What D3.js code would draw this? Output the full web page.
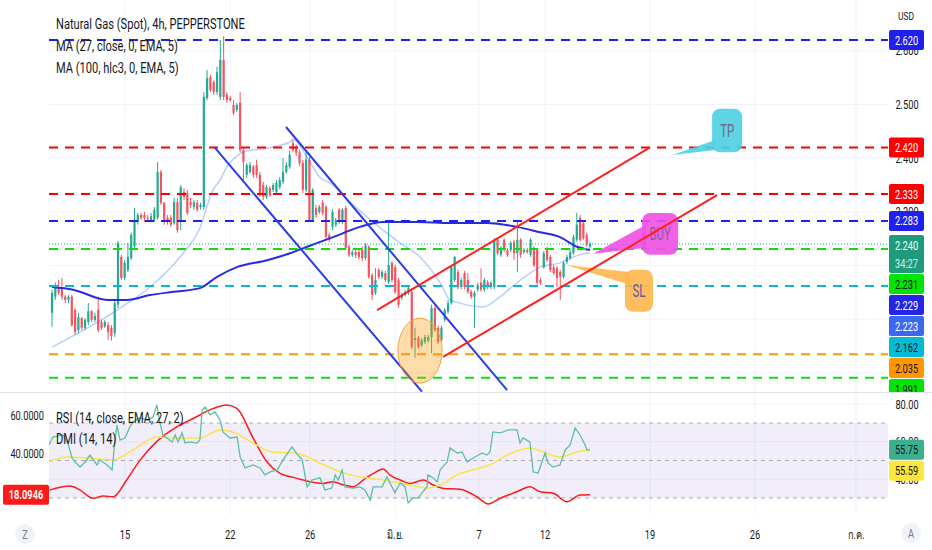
<!DOCTYPE html>
<html>
<head>
<meta charset="utf-8">
<script src="https://cdn.jsdelivr.net/npm/d3@7"></script>
<style>
  body { margin: 0; background: #fff; }
  svg text { font-family: Roboto, "Noto Sans", sans-serif; }
</style>
</head>
<body>
<div id="viz"></div>
<script>
// 4h candles, [open, high, low, close]
const candles = [
  [2.112,2.155,2.086,2.149],[2.142,2.168,2.136,2.160],[2.160,2.173,2.145,2.149],[2.158,2.177,2.136,2.142],
  [2.142,2.145,2.130,2.136],[2.136,2.145,2.130,2.142],[2.142,2.145,2.086,2.089],[2.117,2.121,2.071,2.076],
  [2.080,2.112,2.074,2.104],[2.102,2.104,2.080,2.084],[2.084,2.102,2.080,2.099],[2.095,2.130,2.089,2.115],
  [2.115,2.117,2.095,2.099],[2.099,2.112,2.095,2.106],[2.117,2.142,2.076,2.080],[2.095,2.099,2.080,2.084],
  [2.086,2.099,2.084,2.095],[2.089,2.095,2.061,2.076],[2.084,2.089,2.060,2.069],[2.074,2.136,2.067,2.130],
  [2.127,2.246,2.121,2.242],[2.216,2.220,2.173,2.177],[2.177,2.210,2.173,2.205],[2.192,2.242,2.188,2.216],
  [2.214,2.261,2.210,2.257],[2.236,2.307,2.233,2.285],[2.281,2.298,2.276,2.294],[2.294,2.298,2.285,2.289],
  [2.294,2.300,2.281,2.289],[2.289,2.294,2.283,2.287],[2.285,2.298,2.281,2.292],[2.285,2.309,2.281,2.304],
  [2.289,2.393,2.285,2.374],[2.374,2.378,2.313,2.317],[2.317,2.318,2.276,2.285],[2.289,2.294,2.276,2.281],
  [2.289,2.294,2.272,2.276],[2.279,2.326,2.276,2.318],[2.318,2.326,2.261,2.266],[2.285,2.350,2.266,2.346],
  [2.337,2.344,2.322,2.328],[2.335,2.341,2.294,2.298],[2.318,2.326,2.307,2.313],[2.309,2.322,2.304,2.318],
  [2.317,2.322,2.300,2.304],[2.309,2.317,2.304,2.313],[2.309,2.523,2.304,2.514],[2.512,2.564,2.508,2.549],
  [2.551,2.555,2.523,2.527],[2.542,2.545,2.518,2.523],[2.523,2.570,2.518,2.560],[2.514,2.620,2.508,2.583],
  [2.583,2.627,2.508,2.514],[2.518,2.523,2.503,2.508],[2.512,2.516,2.505,2.508],[2.499,2.508,2.480,2.484],
  [2.490,2.503,2.486,2.499],[2.503,2.523,2.411,2.415],[2.415,2.419,2.354,2.393],[2.369,2.391,2.363,2.387],
  [2.374,2.393,2.371,2.387],[2.384,2.387,2.363,2.369],[2.387,2.397,2.363,2.369],[2.369,2.374,2.328,2.331],
  [2.350,2.356,2.322,2.328],[2.328,2.350,2.324,2.346],[2.344,2.348,2.328,2.331],[2.341,2.354,2.337,2.350],
  [2.337,2.359,2.333,2.354],[2.346,2.365,2.342,2.359],[2.356,2.400,2.352,2.374],[2.374,2.393,2.371,2.387],
  [2.384,2.415,2.380,2.406],[2.428,2.434,2.411,2.415],[2.421,2.425,2.404,2.410],[2.411,2.415,2.385,2.391],
  [2.391,2.397,2.335,2.341],[2.341,2.415,2.337,2.397],[2.397,2.402,2.281,2.285],[2.285,2.344,2.281,2.341],
  [2.307,2.313,2.289,2.294],[2.300,2.313,2.296,2.309],[2.317,2.322,2.294,2.298],[2.309,2.313,2.249,2.253],
  [2.257,2.261,2.244,2.248],[2.272,2.305,2.266,2.300],[2.276,2.289,2.272,2.285],[2.304,2.307,2.277,2.281],
  [2.281,2.307,2.277,2.304],[2.307,2.311,2.229,2.233],[2.235,2.238,2.216,2.220],[2.220,2.229,2.216,2.225],
  [2.225,2.229,2.214,2.220],[2.225,2.231,2.212,2.216],[2.229,2.235,2.208,2.214],[2.214,2.242,2.210,2.238],
  [2.235,2.238,2.175,2.179],[2.182,2.186,2.136,2.145],[2.149,2.195,2.145,2.173],[2.192,2.195,2.175,2.179],
  [2.179,2.192,2.175,2.188],[2.186,2.190,2.169,2.173],[2.169,2.279,2.166,2.201],[2.205,2.208,2.169,2.173],
  [2.197,2.201,2.147,2.151],[2.173,2.177,2.121,2.127],[2.140,2.149,2.136,2.145],[2.145,2.155,2.142,2.151],
  [2.149,2.162,2.145,2.158],[2.151,2.158,2.045,2.048],[2.061,2.084,2.028,2.065],[2.065,2.069,2.045,2.048],
  [2.052,2.065,2.048,2.061],[2.058,2.071,2.054,2.067],[2.060,2.071,2.056,2.067],[2.067,2.127,2.037,2.121],
  [2.121,2.125,2.076,2.080],[2.084,2.088,2.054,2.058],[2.061,2.088,2.058,2.084],[2.099,2.121,2.095,2.117],
  [2.114,2.136,2.110,2.130],[2.130,2.201,2.127,2.197],[2.173,2.218,2.169,2.216],[2.188,2.192,2.156,2.160],
  [2.160,2.177,2.156,2.173],[2.186,2.190,2.156,2.160],[2.173,2.186,2.147,2.151],[2.151,2.155,2.138,2.142],
  [2.142,2.153,2.084,2.149],[2.155,2.168,2.151,2.164],[2.168,2.195,2.151,2.155],[2.155,2.177,2.151,2.173],
  [2.169,2.173,2.156,2.160],[2.160,2.171,2.156,2.168],[2.160,2.251,2.156,2.248],[2.248,2.251,2.220,2.223],
  [2.220,2.236,2.216,2.233],[2.248,2.251,2.225,2.229],[2.229,2.233,2.216,2.220],[2.229,2.246,2.225,2.242],
  [2.244,2.248,2.210,2.223],[2.223,2.285,2.188,2.248],[2.248,2.251,2.214,2.220],[2.225,2.233,2.222,2.229],
  [2.229,2.233,2.222,2.225],[2.220,2.251,2.216,2.248],[2.233,2.236,2.197,2.201],[2.229,2.233,2.164,2.168],
  [2.173,2.177,2.164,2.168],[2.197,2.227,2.194,2.223],[2.229,2.235,2.207,2.210],[2.216,2.220,2.188,2.192],
  [2.197,2.201,2.182,2.186],[2.195,2.199,2.160,2.177],[2.188,2.192,2.136,2.179],[2.179,2.208,2.175,2.205],
  [2.207,2.220,2.203,2.216],[2.214,2.229,2.210,2.225],[2.223,2.257,2.220,2.253],[2.248,2.298,2.244,2.276],
  [2.289,2.294,2.244,2.248],[2.279,2.283,2.248,2.251],[2.257,2.261,2.235,2.238],[2.235,2.244,2.231,2.240]
];

// moving averages, [bar, price]
const ma27 = [[0,2.048],[19.7,2.117],[29.7,2.160],[38.8,2.216],[44.8,2.270],[48.8,2.341],[50.9,2.359],
  [53,2.384],[54.8,2.397],[57.9,2.411],[65.2,2.419],[72.1,2.430],[73,2.435],[77.3,2.402],[81.2,2.364],
  [84.2,2.354],[90.3,2.318],[100.3,2.266],[105.5,2.242],[111.5,2.216],[117.6,2.168],[120.6,2.136],
  [123.6,2.130],[130.6,2.123],[135.8,2.142],[140.9,2.168],[147.9,2.197],[153.9,2.205],[157.9,2.216],
  [162.1,2.223],[163,2.223]];
const ma100 = [[0,2.160],[6.4,2.155],[16.7,2.136],[22.7,2.136],[29.7,2.145],[36.7,2.151],[44.8,2.158],
  [50,2.179],[56,2.197],[65.2,2.210],[72.1,2.223],[77.3,2.235],[85.2,2.253],[93.3,2.272],[100.3,2.281],
  [110.6,2.281],[120.6,2.279],[131.8,2.279],[140.9,2.272],[147.9,2.262],[153.9,2.253],[159.1,2.235],
  [163,2.229]];

// lower pane, [bar, value]
const rsi = [[-0.9,58.3],[0.3,62.5],[3.3,63.6],[4.8,59.3],[6.1,51.3],[7,49.2],[8.5,46.5],[10,49.2],
  [11.5,52.9],[13.6,47.6],[14.5,50.3],[16.7,47.6],[18.2,44.9],[19.1,60.9],[19.7,68.9],[20.6,60.9],
  [22.1,62],[23.6,67.9],[24.5,70.5],[26.7,72.7],[28.8,71.6],[30.6,73.2],[31.8,79.6],[32.7,70],
  [33.6,63.6],[34.8,62],[36.4,59.9],[37.3,63.6],[38.2,59.9],[39.4,64.7],[40.3,59.3],[41.8,59.9],
  [43.9,59.3],[44.8,60.9],[45.5,76.9],[46.4,78.5],[47.9,74.3],[49.4,75.9],[50.9,71.6],[51.8,65.2],
  [53.9,62],[56.1,62.5],[57,51.9],[58.5,46],[60.9,47.6],[63,46],[64.5,42.3],[66.1,43.9],[68.2,44.9],
  [70,50.3],[72.7,57.2],[74.5,52.9],[75.8,50.3],[77.3,35.9],[78.8,39.6],[81.2,40.7],[82.7,34.3],
  [84.8,35.3],[85.8,42.3],[86.7,39.6],[87.9,44.9],[88.8,35.9],[91.2,35.3],[93.3,35.9],[94.8,34.3],
  [96.4,28.9],[97.3,35.9],[100,35.9],[101.5,41.2],[103.9,32.7],[105.5,38],[107,35.9],[107.9,27.3],
  [109.4,30],[110.9,30],[112.1,32.7],[113.6,35.9],[113.9,42.3],[115.5,40.7],[116.7,38.5],[117.6,44.9],
  [119.7,49.2],[120.6,56.7],[122.7,54],[124.2,54.5],[125.8,49.2],[127.6,51.3],[130.3,54],[131.8,52.9],
  [132.7,54.5],[133.6,65.2],[135.8,64.7],[136.7,65.2],[138.2,66.3],[140.9,66.3],[141.8,59.3],[142.7,62],
  [144.8,59.9],[145.8,43.9],[147.3,43.3],[149.4,54],[150.3,48.7],[151.8,46.5],[153.9,47.6],[155.5,55.6],
  [157,58.3],[158.5,67.3],[160,63.6],[161.5,58.3],[162.1,55.6],[163,55.75]];
const rsiMa = [[-0.9,49.2],[4.5,51.9],[10.6,51.3],[18.5,50.3],[24.5,55.6],[31.8,62.5],[36.7,62],
  [44.8,62],[50.9,66.3],[54.8,65.2],[60.9,59.3],[66.9,54.5],[73,54],[76.1,52.9],[81.2,48.5],[90.3,42.3],
  [100.3,39.6],[108.5,36.9],[113.6,35.3],[117.6,36.9],[122.7,42.3],[129.7,46],[132.7,47.6],[137.9,52.9],
  [144.8,56.7],[148.8,54.5],[153.9,51.9],[159.1,54.5],[163,55.59]];
const adx = [[-0.8,20.5],[5.5,22.6],[8.5,20.5],[12.5,16.2],[15.5,17.4],[18.6,17.0],[22.6,25.8],
  [26.7,36.3],[31.7,46.0],[37.8,53.8],[42.8,58.2],[48.9,63.5],[52.9,65.3],[56,63.5],[61,47.7],
  [65.1,35.4],[69.1,29.3],[73.1,27.2],[75.2,26.2],[78.2,24.9],[82.2,24.0],[85.2,24.9],[88.3,23.2],
  [91.3,22.3],[94.3,25.8],[97.4,29.3],[100.4,31.6],[102.4,28.4],[105.5,25.8],[108.5,24.0],[112.5,25.8],
  [115.5,23.2],[118.6,21.4],[123.6,20.9],[128.7,17.0],[132.2,13.2],[135.8,16.2],[140.8,19.6],
  [144.8,22.3],[147.9,19.6],[151.9,18.8],[156,14.4],[160,17.9],[163,18.0946]];

// horizontal levels drawn on the chart
const levelPrices = [2.620, 2.420, 2.333, 2.283, 2.231, 2.162, 2.035, 1.991];

// trend lines, [[bar, price], [bar, price]]
const fallLines = [[[49.4,2.419],[112.1,1.965]], [[70.9,2.458],[137.9,1.968]]];
const riseLines = [[[98.5,2.117],[181.2,2.420]], [[118.5,2.030],[201.5,2.331]]];
const ellipseBox = [[104.8,2.102],[118.2,1.981]];

const calloutTexts = ["TP", "BUY", "SL"];
const calloutTips = [[187.9,2.406], [163.9,2.222], [155.8,2.201]];
const calloutBoxes = [[[200,2.492],[209.1,2.411]], [[178.8,2.298],[189.7,2.220]], [[173.6,2.192],[182.1,2.114]]];
const calloutBases = [[[201,2.434],[201,2.415]], [[180,2.276],[180,2.233]], [[175,2.188],[175,2.164]]];

const dayLabels = ["15", "22", "26", "มิ.ย.", "7", "12", "19", "26", "ก.ค."];
const dayBars = [22.1, 54.0, 78.2, 104, 129.4, 149.4, 181.2, 213, 243.6];
const priceTicks = [2.0, 2.1, 2.2, 2.3, 2.4, 2.5, 2.6];
const rsiTicks = [80, 60, 40];
const dmiTicks = [60, 40];
const rsiBand = [70, 50, 30];

// ---------------------------------------------------------------
const width = 932, height = 550;
const left = 49, right = 888;
const mainBottom = 392, subTop = 393, subBottom = 515;
const SX = 0.74; // text in the snapshot is horizontally squeezed

const up = "#22ab94", down = "#f7525f";
const levelColors = ["#1f1ff0", "#ff0000", "#ff0000", "#1f1ff0", "#00e600", "#00bcd4", "#ff9800", "#00e600"];
const levelText = ["#fff", "#fff", "#fff", "#fff", "#131722", "#131722", "#131722", "#131722"];
const calloutColors = ["#4dd0e1", "#f050e6", "#ffb74d"];
const calloutInk = ["#7b5e8f", "#8a5a9a", "#6456b0"];

const svg = d3.select("#viz").append("svg")
  .attr("width", width).attr("height", height)
  .style("display", "block");

const x = d3.scaleLinear().domain([-0.91, 253.3]).range([left, right]);
const y = d3.scaleLinear().domain([1.9645, 2.6945]).range([mainBottom, 0]);
const yRsi = d3.scaleLinear().domain([20.9, 86]).range([subBottom, subTop]);
const yDmi = d3.scaleLinear().domain([7.4, 71.6]).range([subBottom, subTop]);

const defs = svg.append("defs");
defs.append("clipPath").attr("id", "clipMain").append("rect")
  .attr("x", left).attr("y", 0).attr("width", right - left).attr("height", mainBottom);
defs.append("clipPath").attr("id", "clipSub").append("rect")
  .attr("x", left).attr("y", subTop).attr("width", right - left).attr("height", subBottom - subTop);
defs.append("clipPath").attr("id", "clipAxis").append("rect")
  .attr("x", right).attr("y", 0).attr("width", width - right).attr("height", mainBottom);

function label(g, px, py, str, o) {
  return g.append("text")
    .attr("transform", `translate(${px},${py}) scale(${o.sx || SX},1)`)
    .attr("dy", "0.36em")
    .attr("text-anchor", o.anchor || "start")
    .attr("font-size", o.size || 12.5)
    .attr("font-weight", o.weight || 400)
    .attr("fill", o.fill || "#131722")
    .text(str);
}

// grid
const grid = svg.append("g").attr("stroke", "#f0f3fa").attr("stroke-width", 1);
dayBars.forEach(b => {
  grid.append("line").attr("x1", x(b)).attr("x2", x(b)).attr("y1", 0).attr("y2", subBottom);
});
priceTicks.forEach(p => {
  grid.append("line").attr("x1", left).attr("x2", right).attr("y1", y(p)).attr("y2", y(p));
});
rsiTicks.forEach(v => {
  grid.append("line").attr("x1", left).attr("x2", right).attr("y1", yRsi(v)).attr("y2", yRsi(v));
});

svg.append("line").attr("x1", 0).attr("x2", width).attr("y1", mainBottom + 0.5).attr("y2", mainBottom + 0.5)
  .attr("stroke", "#e0e3eb");

// ---------- main pane ----------
const main = svg.append("g").attr("clip-path", "url(#clipMain)");

const bars = main.selectAll("g.candle").data(candles).enter().append("g");
bars.append("line")
  .attr("x1", (d, i) => x(i)).attr("x2", (d, i) => x(i))
  .attr("y1", d => y(d[1])).attr("y2", d => y(d[2]))
  .attr("stroke", d => d[3] >= d[0] ? up : down).attr("stroke-width", 1);
bars.append("rect")
  .attr("x", (d, i) => x(i) - 1.1).attr("width", 2.2)
  .attr("y", d => y(Math.max(d[0], d[3])))
  .attr("height", d => Math.max(1, Math.abs(y(d[0]) - y(d[3]))))
  .attr("fill", d => d[3] >= d[0] ? up : down);

const line = d3.line().x(d => x(d[0])).y(d => y(d[1])).curve(d3.curveMonotoneX);
main.append("path").attr("d", line(ma27)).attr("fill", "none")
  .attr("stroke", "#2962ff").attr("stroke-opacity", 0.32).attr("stroke-width", 1.5);
main.append("path").attr("d", line(ma100)).attr("fill", "none")
  .attr("stroke", "#2a2ae6").attr("stroke-width", 2);

// last price dotted line
const last = candles[candles.length - 1][3];
main.append("line").attr("x1", left).attr("x2", right).attr("y1", y(last)).attr("y2", y(last))
  .attr("stroke", up).attr("stroke-width", 1).attr("stroke-dasharray", "1,2");

// horizontal levels
levelPrices.forEach((p, i) => {
  main.append("line").attr("x1", left).attr("x2", right).attr("y1", y(p)).attr("y2", y(p))
    .attr("stroke", levelColors[i]).attr("stroke-width", 2).attr("stroke-dasharray", "9,7");
});

// callouts
calloutTexts.forEach((t, i) => {
  const tip = calloutTips[i], base = calloutBases[i], box = calloutBoxes[i];
  const pts = [tip, base[0], base[1]].map(d => [x(d[0]), y(d[1])]);
  main.append("polygon").attr("points", pts.map(d => d.join(",")).join(" "))
    .attr("fill", calloutColors[i]).attr("fill-opacity", 0.9);
  const x0 = x(box[0][0]), x1 = x(box[1][0]), y0 = y(box[0][1]), y1 = y(box[1][1]);
  main.append("rect").attr("x", x0).attr("y", y0).attr("width", x1 - x0).attr("height", y1 - y0)
    .attr("rx", 8).attr("fill", calloutColors[i]).attr("fill-opacity", 0.9);
  label(main, (x0 + x1) / 2, (y0 + y1) / 2, t, { anchor: "middle", size: 17.5, sx: 0.65, fill: calloutInk[i] });
});

// trend lines
fallLines.forEach(l => {
  main.append("line").attr("x1", x(l[0][0])).attr("y1", y(l[0][1])).attr("x2", x(l[1][0])).attr("y2", y(l[1][1]))
    .attr("stroke", "#2a3de8").attr("stroke-width", 2);
});
riseLines.forEach(l => {
  main.append("line").attr("x1", x(l[0][0])).attr("y1", y(l[0][1])).attr("x2", x(l[1][0])).attr("y2", y(l[1][1]))
    .attr("stroke", "#ff1f1f").attr("stroke-width", 2);
});

// ellipse
main.append("ellipse")
  .attr("cx", (x(ellipseBox[0][0]) + x(ellipseBox[1][0])) / 2)
  .attr("cy", (y(ellipseBox[0][1]) + y(ellipseBox[1][1])) / 2)
  .attr("rx", (x(ellipseBox[1][0]) - x(ellipseBox[0][0])) / 2)
  .attr("ry", (y(ellipseBox[1][1]) - y(ellipseBox[0][1])) / 2)
  .attr("fill", "#ff9800").attr("fill-opacity", 0.33)
  .attr("stroke", "#f5a340").attr("stroke-width", 1);

// legends
label(svg, 56, 24, "Natural Gas (Spot), 4h, PEPPERSTONE", { size: 15 });
label(svg, 56, 46, "MA (27, close, 0, EMA, 5)", { size: 15 });
label(svg, 56, 68, "MA (100, hlc3, 0, EMA, 5)", { size: 15 });

// ---------- lower pane ----------
const sub = svg.append("g").attr("clip-path", "url(#clipSub)");
sub.append("rect").attr("x", left).attr("width", right - left)
  .attr("y", yRsi(rsiBand[0])).attr("height", yRsi(rsiBand[2]) - yRsi(rsiBand[0]))
  .attr("fill", "#7e57c2").attr("fill-opacity", 0.1);
rsiBand.forEach(v => {
  sub.append("line").attr("x1", left).attr("x2", right).attr("y1", yRsi(v)).attr("y2", yRsi(v))
    .attr("stroke", "#9598a1").attr("stroke-opacity", 0.8).attr("stroke-dasharray", "4,4");
});
const lineR = d3.line().x(d => x(d[0])).y(d => yRsi(d[1]));
const lineD = d3.line().x(d => x(d[0])).y(d => yDmi(d[1])).curve(d3.curveMonotoneX);
sub.append("path").attr("d", lineD(adx)).attr("fill", "none").attr("stroke", "#ff1a1a").attr("stroke-width", 1.5);
sub.append("path").attr("d", lineR.curve(d3.curveMonotoneX)(rsiMa)).attr("fill", "none")
  .attr("stroke", "#fbe44a").attr("stroke-width", 1.5);
sub.append("path").attr("d", d3.line().x(d => x(d[0])).y(d => yRsi(d[1]))(rsi)).attr("fill", "none")
  .attr("stroke", "#5cbfa3").attr("stroke-width", 1.3);

label(svg, 56, 418, "RSI (14, close, EMA, 27, 2)", { size: 15 });
label(svg, 56, 439, "DMI (14, 14)", { size: 15 });

// ---------- price labels, stacked so they do not overlap ----------
const tags = levelPrices.map((p, i) => ({ v: p, bg: levelColors[i], ink: levelText[i], h: 20 }));
tags.push({ v: last, bg: "#1e9a7c", ink: "#fff", h: 38, timer: "34:27" });
tags.push({ v: ma100[ma100.length - 1][1], bg: "#2525e6", ink: "#fff", h: 20 });
tags.push({ v: ma27[ma27.length - 1][1], bg: "#3a68f0", ink: "#fff", h: 20 });
tags.forEach(t => { t.top = y(t.v) - (t.timer ? 9 : 10); });
tags.sort((a, b) => a.top - b.top);
let floor = -Infinity;
tags.forEach(t => { t.top = Math.max(t.top, floor); floor = t.top + t.h + 1; });

// ---------- price axis ----------
const axis = svg.append("g");
label(axis, 906, 16, "USD", { anchor: "middle", size: 11.5 });
// scale ticks that sit wholly under a price label cannot be seen, so skip them
const hidden = p => tags.some(t => y(p) > t.top + 2 && y(p) < t.top + t.h - 2);
priceTicks.filter(p => !hidden(p))
  .forEach(p => label(axis, 907, y(p), d3.format(".3f")(p), { anchor: "middle" }));
rsiTicks.forEach(v => label(axis, 907, yRsi(v), d3.format(".2f")(v), { anchor: "middle" }));
dmiTicks.forEach(v => label(axis, 44, yDmi(v), d3.format(".4f")(v), { anchor: "end" }));

const tagG = svg.append("g").attr("clip-path", "url(#clipAxis)");
tags.forEach(t => {
  tagG.append("rect").attr("x", 889).attr("y", t.top).attr("width", 35).attr("height", t.h)
    .attr("rx", 2).attr("fill", t.bg);
  label(tagG, 906.5, t.top + 10, d3.format(".3f")(t.v), { anchor: "middle", fill: t.ink });
  if (t.timer) label(tagG, 906.5, t.top + 28, t.timer, { anchor: "middle", fill: "#d7efe8" });
});

const subTags = [
  { v: rsi[rsi.length - 1][1], bg: "#3ab08f" },
  { v: rsiMa[rsiMa.length - 1][1], bg: "#ffe63b" }
];
let subFloor = -Infinity;
subTags.forEach(t => {
  t.top = Math.max(yRsi(t.v) - 10, subFloor); subFloor = t.top + 21;
  svg.append("rect").attr("x", 889).attr("y", t.top).attr("width", 35).attr("height", 20).attr("rx", 2).attr("fill", t.bg);
  label(svg, 906.5, t.top + 10, d3.format(".2f")(t.v), { anchor: "middle" });
});

const adxLast = adx[adx.length - 1][1];
svg.append("rect").attr("x", 3).attr("y", yDmi(adxLast) - 10).attr("width", 46).attr("height", 20)
  .attr("rx", 2).attr("fill", "#ff1a1a");
label(svg, 26, yDmi(adxLast), d3.format(".4f")(adxLast), { anchor: "middle", fill: "#fff", weight: 700 });

// ---------- time axis ----------
dayLabels.forEach((t, i) => label(svg, x(dayBars[i]), 534, t, { anchor: "middle", size: 12.5 }));

svg.append("circle").attr("cx", 25).attr("cy", 534).attr("r", 10).attr("fill", "#f0f3fa");
label(svg, 25, 534, "Z", { anchor: "middle", size: 12.5, fill: "#787b86" });
svg.append("circle").attr("cx", 911).attr("cy", 533).attr("r", 10).attr("fill", "#f0f3fa");
label(svg, 911, 533, "A", { anchor: "middle", size: 12.5, fill: "#787b86" });
</script>
</body>
</html>
